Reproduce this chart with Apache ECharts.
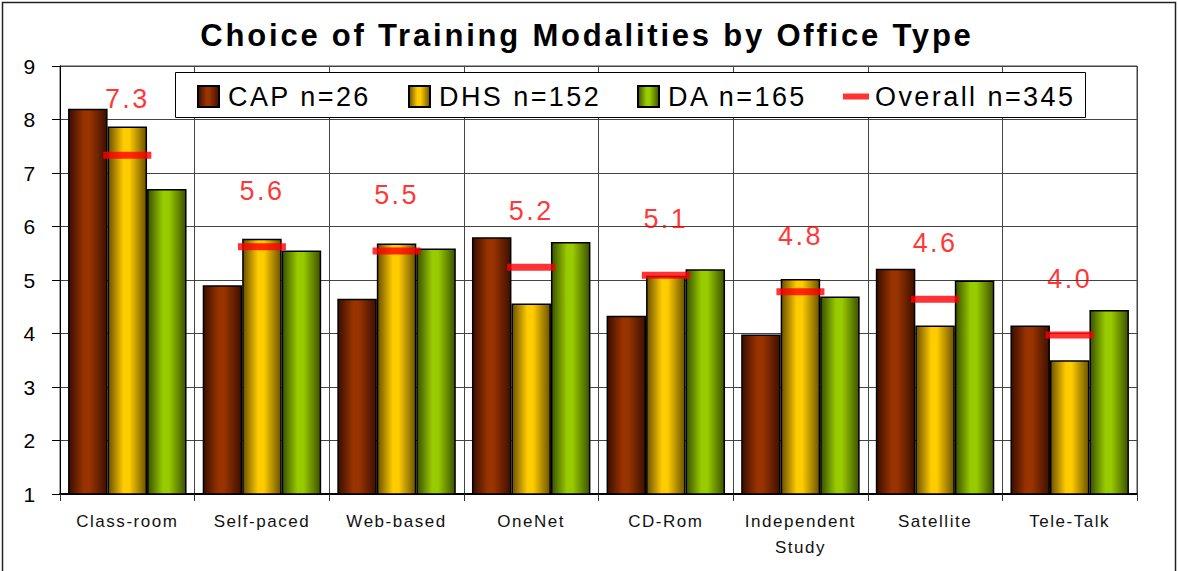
<!DOCTYPE html>
<html>
<head>
<meta charset="utf-8">
<title>Choice of Training Modalities by Office Type</title>
<script src="https://cdn.jsdelivr.net/npm/echarts@6/dist/echarts.min.js"></script>
<style>
html, body { margin: 0; padding: 0; background: #fff; }
#modalities { width: 1178px; height: 571px; }
/* excel style wide text */
#modalities text { letter-spacing: 0.09em; }
</style>
</head>
<body>
<div id="modalities"></div>
<script>
var categories = ['Class-room', 'Self-paced', 'Web-based', 'OneNet', 'CD-Rom', 'Independent\nStudy', 'Satellite', 'Tele-Talk']
var capData = [8.20, 4.90, 4.65, 5.80, 4.33, 3.98, 5.21, 4.15]
var dhsData = [7.87, 5.77, 5.68, 4.56, 5.08, 5.02, 4.15, 3.50]
var daData = [6.70, 5.55, 5.59, 5.71, 5.20, 4.69, 4.99, 4.44]
var overallData = [7.33, 5.62, 5.54, 5.24, 5.09, 4.78, 4.64, 3.97]
var yTicks = [1, 2, 3, 4, 5, 6, 7, 8, 9]
var seriesNames = ['CAP n=26', 'DHS n=152', 'DA n=165', 'Overall n=345']

var font = '"Liberation Sans", Arial, sans-serif'

function barGradient(edgeL, mid, edgeR) {
  return new echarts.graphic.LinearGradient(0, 0, 1, 0, [
    {offset: 0, color: edgeL},
    {offset: 0.4, color: mid},
    {offset: 0.55, color: mid},
    {offset: 1, color: edgeR}
  ])
}

function barSeries(name, data, color) {
  return {
    name: name,
    type: 'bar',
    barGap: '0%',
    barCategoryGap: '12%',
    itemStyle: {
      color: color,
      borderColor: '#000',
      borderWidth: 1.5
    },
    data: data
  }
}

function legendAt(name, left, extra) {
  var lg = {
    data: [name],
    left: left,
    top: 83,
    padding: 0,
    itemGap: 0,
    itemWidth: 21,
    itemHeight: 21,
    icon: 'rect',
    z: 10,
    textStyle: {fontSize: 27, color: '#000', fontFamily: font, padding: [0, 0, 0, 4]}
  }
  return Object.assign(lg, extra || {})
}

var chart = echarts.init(document.getElementById('modalities'), null, {renderer: 'svg'})

var option = {
  backgroundColor: '#fff',
  animation: false,
  title: {
    text: 'Choice of Training Modalities by Office Type',
    left: 582,
    textAlign: 'center',
    top: 15,
    textStyle: {fontSize: 31, fontWeight: 'bold', color: '#000', fontFamily: font}
  },
  legend: [
    legendAt(seriesNames[0], 197),
    legendAt(seriesNames[1], 408),
    legendAt(seriesNames[2], 637),
    legendAt(seriesNames[3], 843, {
      data: [{name: seriesNames[3], icon: 'path://M0,0H26V6H0Z'}],
      itemWidth: 26,
      textStyle: {fontSize: 27, color: '#000', fontFamily: font, padding: [0, 0, 0, 1]}
    })
  ],
  graphic: [
    {
      // outer frame
      type: 'rect',
      shape: {x: 2.5, y: 2.5, width: 1173, height: 580},
      style: {fill: 'none', stroke: '#222', lineWidth: 1.5},
      z: 1
    },
    {
      // legend box
      type: 'rect',
      shape: {x: 175.5, y: 72.5, width: 910, height: 45},
      style: {fill: '#fff', stroke: '#000', lineWidth: 1},
      z: 8
    }
  ],
  grid: {
    left: 60,
    right: 41,
    top: 66,
    bottom: 77,
    show: true,
    backgroundColor: '#fff',
    borderColor: '#444',
    borderWidth: 1
  },
  xAxis: {
    type: 'category',
    data: categories,
    axisLine: {lineStyle: {color: '#000', width: 2}},
    axisTick: {show: true, length: 7, lineStyle: {color: '#333'}},
    splitLine: {show: true, interval: 0, lineStyle: {color: '#444', width: 1}},
    axisLabel: {
      interval: 0,
      margin: 14,
      fontSize: 17,
      lineHeight: 26,
      color: '#111',
      fontFamily: font
    }
  },
  yAxis: {
    type: 'value',
    min: yTicks[0],
    max: yTicks[yTicks.length - 1],
    interval: 1,
    axisLine: {show: true, lineStyle: {color: '#000', width: 1}},
    axisTick: {show: true, length: 8, lineStyle: {color: '#000'}},
    splitLine: {lineStyle: {color: '#444', width: 1}},
    axisLabel: {
      margin: 23,
      fontSize: 21,
      color: '#000',
      fontFamily: font
    }
  },
  series: [
    barSeries(seriesNames[0], capData, barGradient('#3a0e00', '#993300', '#3d1000')),
    barSeries(seriesNames[1], dhsData, barGradient('#6b5000', '#ffcc00', '#6b5300')),
    barSeries(seriesNames[2], daData, barGradient('#3a5000', '#99cc00', '#3d5200')),
    {
      name: seriesNames[3],
      type: 'scatter',
      symbol: 'rect',
      symbolSize: [48, 7],
      z: 5,
      itemStyle: {color: '#ff0000'},
      label: {
        show: true,
        position: 'inside',
        offset: [0, -56],
        fontSize: 27,
        color: '#ff0000',
        fontFamily: font,
        formatter: function (p) { return p.value.toFixed(1) }
      },
      data: overallData
    }
  ]
}

chart.setOption(option)
</script>
</body>
</html>
